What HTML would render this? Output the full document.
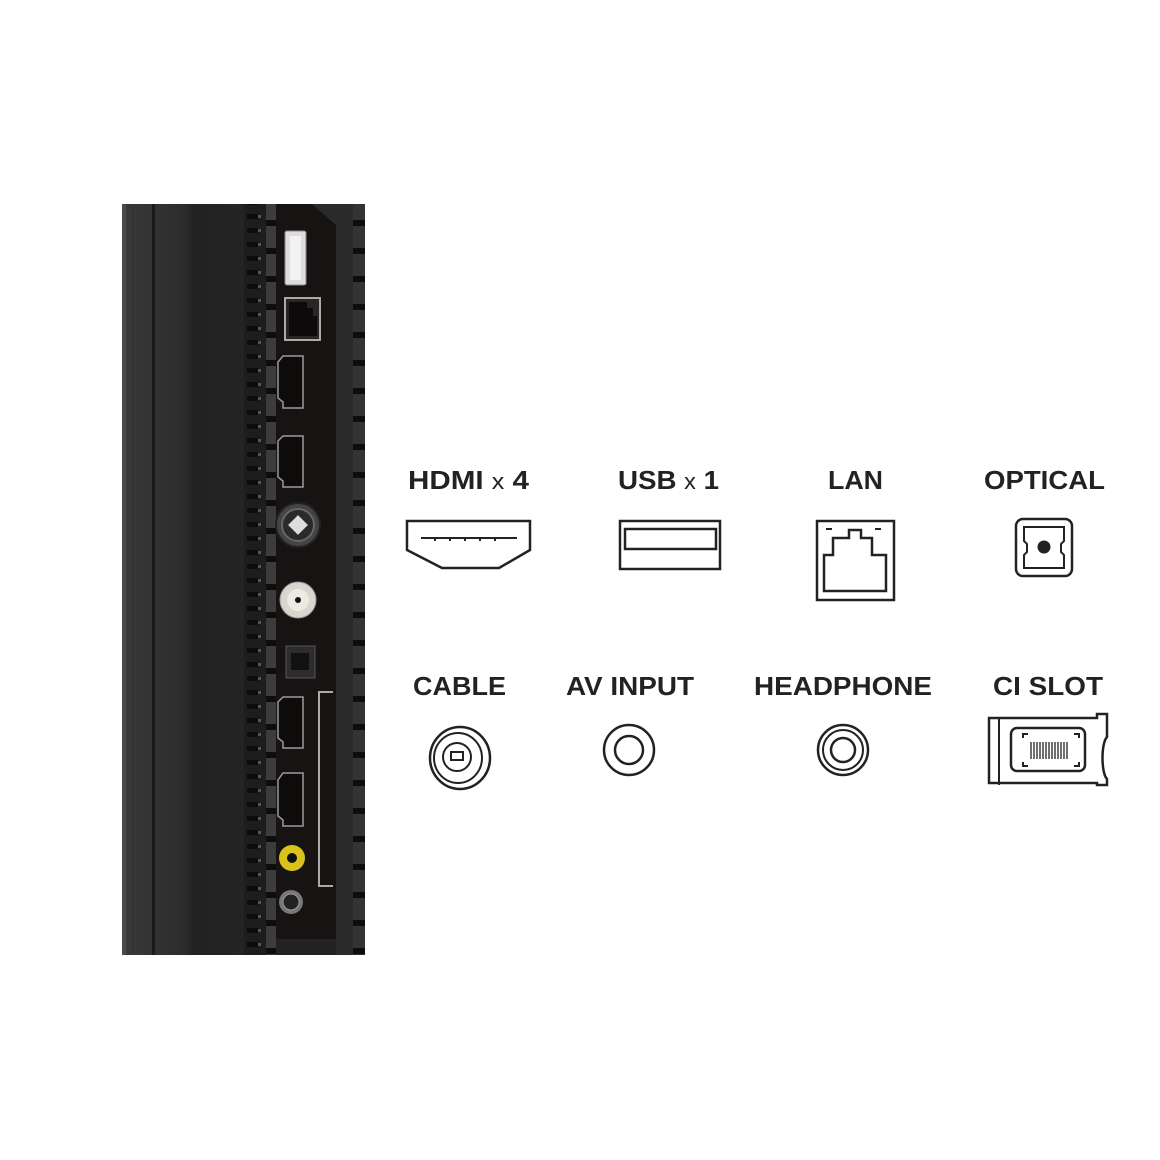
<!DOCTYPE html>
<html><head><style>html,body{margin:0;padding:0;background:#fff}svg{display:block}</style></head>
<body>
<svg width="1160" height="1160" viewBox="0 0 1160 1160" xmlns="http://www.w3.org/2000/svg">
<defs>
<linearGradient id="back" x1="0" x2="1" y1="0" y2="0">
<stop offset="0" stop-color="#3a3a3a"/><stop offset="0.25" stop-color="#2c2c2c"/><stop offset="0.3" stop-color="#222"/><stop offset="0.7" stop-color="#262626"/><stop offset="1" stop-color="#1b1b1b"/>
</linearGradient>
<pattern id="ventL" width="20" height="14" patternUnits="userSpaceOnUse" x="247" y="210"><rect x="0" y="4" width="11" height="5" fill="#0c0c0c"/><rect x="11" y="5" width="3" height="3" fill="#555"/></pattern>
<pattern id="ventR" width="20" height="28" patternUnits="userSpaceOnUse" x="265" y="220"><rect x="0" y="0" width="12" height="6" fill="#0d0d0d"/></pattern>
<pattern id="ventRR" width="20" height="28" patternUnits="userSpaceOnUse" x="353" y="220"><rect x="0" y="0" width="12" height="6" fill="#0d0d0d"/></pattern>
</defs>
<rect x="122" y="204" width="243" height="751" fill="url(#back)"/>
<rect x="122" y="204" width="4" height="751" fill="#4a4a4a"/>
<rect x="132" y="204" width="2" height="751" fill="#333"/>
<rect x="140" y="204" width="2" height="751" fill="#363636"/>
<rect x="152" y="204" width="3" height="751" fill="#1a1a1a"/>
<rect x="244" y="204" width="22" height="751" fill="#1d1d1d"/>
<rect x="244" y="204" width="22" height="751" fill="url(#ventL)"/>
<rect x="266" y="204" width="10" height="751" fill="#3c3c3c"/>
<rect x="266" y="204" width="10" height="751" fill="url(#ventR)"/>
<rect x="276" y="204" width="60" height="735" fill="#181313"/>
<polygon points="312,204 336,204 336,225" fill="#2a2a2a"/>
<rect x="336" y="204" width="17" height="751" fill="#2a2a2a"/>
<rect x="276" y="939" width="60" height="16" fill="#222"/>
<rect x="353" y="204" width="12" height="751" fill="#333"/>
<rect x="353" y="204" width="12" height="751" fill="url(#ventRR)"/>
<rect x="285" y="231" width="21" height="54" rx="2" fill="#ddd" stroke="#888"/>
<rect x="290" y="236" width="11" height="44" fill="#f2f2f2"/>
<rect x="285" y="298" width="35" height="42" fill="#2a2422" stroke="#aaa" stroke-width="2"/>
<path d="M289 302h18v6h6v8h4v20h-28z" fill="#0c0a0a"/>
<g fill="#0e0b0b" stroke="#9a9a9a" stroke-width="1.5">
<path d="M283 356h20v52h-20v-6l-5-4v-36z"/>
<path d="M283 436h20v51h-20v-6l-5-4v-36z"/>
<path d="M283 697h20v51h-20v-6l-5-4v-36z"/>
<path d="M283 773h20v53h-20v-6l-5-4v-36z"/>
</g>
<circle cx="298" cy="525" r="22" fill="#444" stroke="#222" stroke-width="2"/>
<circle cx="298" cy="525" r="16" fill="#2a2a2a" stroke="#666" stroke-width="2"/>
<rect x="291" y="518" width="14" height="14" fill="#ddd" transform="rotate(45 298 525)"/>
<circle cx="298" cy="600" r="18" fill="#d8d6cf" stroke="#999"/>
<circle cx="298" cy="600" r="11" fill="#eceae2"/>
<circle cx="298" cy="600" r="3" fill="#111"/>
<rect x="286" y="646" width="29" height="32" fill="#2d2d2d" stroke="#555"/>
<rect x="291" y="653" width="18" height="17" fill="#111"/>
<circle cx="292" cy="858" r="13" fill="#d9c21a"/>
<circle cx="292" cy="858" r="5" fill="#111"/>
<circle cx="291" cy="902" r="12" fill="#777"/>
<circle cx="291" cy="902" r="8" fill="#222" stroke="#999"/>
<path d="M333 692h-14v194h14" fill="none" stroke="#aaa" stroke-width="2"/>
<g font-family="Liberation Sans, sans-serif" font-weight="bold" font-size="26" fill="#222">
<text x="408" y="489" textLength="121" lengthAdjust="spacingAndGlyphs">HDMI <tspan font-weight="normal" font-size="22">x</tspan> 4</text>
<text x="618" y="489" textLength="101" lengthAdjust="spacingAndGlyphs">USB <tspan font-weight="normal" font-size="22">x</tspan> 1</text>
<text x="828" y="489" textLength="55" lengthAdjust="spacingAndGlyphs">LAN</text>
<text x="984" y="489" textLength="121" lengthAdjust="spacingAndGlyphs">OPTICAL</text>
<text x="413" y="695" textLength="93" lengthAdjust="spacingAndGlyphs">CABLE</text>
<text x="566" y="695" textLength="128" lengthAdjust="spacingAndGlyphs">AV INPUT</text>
<text x="754" y="695" textLength="178" lengthAdjust="spacingAndGlyphs">HEADPHONE</text>
<text x="993" y="695" textLength="110" lengthAdjust="spacingAndGlyphs">CI SLOT</text>
</g>
<g fill="none" stroke="#222" stroke-width="2.5">
<path d="M407 521h123v29l-31 18h-57l-35-18z"/>
<path d="M421 538h96M435 538v3M450 538v3M465 538v3M480 538v3M495 538v3" stroke-width="2"/>
<rect x="620" y="521" width="100" height="48"/>
<rect x="625" y="529" width="91" height="20"/>
<rect x="817" y="521" width="77" height="79"/>
<path d="M849 530h12v8h11v17h14v36h-62v-36h9v-17h16z"/>
<path d="M826 529h6M875 529h6" stroke-width="2"/>
<rect x="1016" y="519" width="56" height="57" rx="7"/>
<path d="M1024 527h40v14l-3 3v8l3 3v13h-40v-13l3-3v-8l-3-3z" stroke-width="2"/>
<ellipse cx="460" cy="758" rx="30" ry="31"/>
<ellipse cx="458" cy="758" rx="24" ry="25" stroke-width="2"/>
<circle cx="457" cy="757" r="14" stroke-width="2"/>
<path d="M451 752h12v8h-12z" stroke-width="2"/>
<circle cx="629" cy="750" r="25"/>
<circle cx="629" cy="750" r="14"/>
<circle cx="843" cy="750" r="25"/>
<circle cx="843" cy="750" r="20" stroke-width="2"/>
<circle cx="843" cy="750" r="12"/>
<path d="M989 718h108v-4h10v23c-6 6-6 36 0 42v6h-10v-2h-108z"/>
<path d="M999 718v67" stroke-width="2"/>
<rect x="1011" y="728" width="74" height="43" rx="6"/>
<path d="M1023 738v-4h5M1074 734h5v4M1023 762v4h5M1074 766h5v-4" stroke-width="2"/>
<path d="M1031 742v17M1034 742v17M1037 742v17M1040 742v17M1043 742v17M1046 742v17M1049 742v17M1052 742v17M1055 742v17M1058 742v17M1061 742v17M1064 742v17M1067 742v17" stroke-width="1.3"/>
</g>
<circle cx="1044" cy="547" r="6.5" fill="#222"/>
</svg>
</body></html>
